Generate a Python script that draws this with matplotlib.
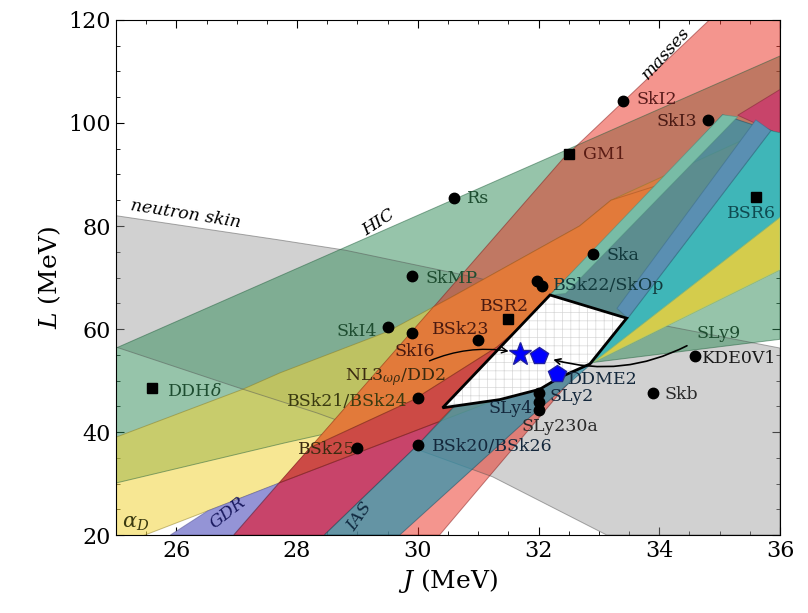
import numpy as np
import matplotlib
matplotlib.use("Agg")
import matplotlib.pyplot as plt

plt.rcParams['font.family'] = 'DejaVu Serif'
plt.rcParams['mathtext.fontset'] = 'dejavuserif'
plt.rcParams['hatch.linewidth'] = 0.5

# constraint bands, (J, L) vertices in MeV
gray_J = [25, 27.7, 28.8, 31.0, 32.2, 33.5, 34.2, 36, 36, 33.13, 31.24, 28.33, 27.0, 25]
gray_L = [82, 77.3, 75.3, 69.9, 66.4, 62.1, 60.4, 56.3, 20, 20, 31.3, 43.7, 48.7, 56.5]

hic_J = [25, 36, 36, 32.9, 32.4, 32.0, 31.4, 30.4, 27.8, 25]
hic_L = [56.3, 113, 58, 53.5, 50.8, 48.3, 46.5, 44.7, 37.9, 30.1]

ad_J = [25, 25, 27.1, 27.72, 29.5, 30.53, 32.68, 33.2, 36, 36, 32.9, 25.48, 25]
ad_L = [17.8, 39, 48.3, 51.5, 59.5, 66, 80, 85, 100, 71.5, 53.5, 20, 17.8]

mass_J = [26.95, 30.36, 32.4, 34.83, 36, 36, 30.36]
mass_L = [20, 65.6, 93, 120, 120, 98, 20]

ias_J = [28.45, 30.0, 31.3, 32.19, 33.6, 35.05, 35.9, 33.48, 32.9, 31.8, 29.7]
ias_L = [20, 37.5, 53.5, 66.6, 83.1, 101.6, 98.3, 62.1, 53.5, 42.3, 20]

# overlap pieces, as they show through the other bands
mass_ad_J = [30.26, 28.22, 29.92, 31.31, 32.2, 32.19, 33.6, 33.95, 33.2, 32.68, 30.53]
mass_ad_L = [64.3, 37.0, 46.2, 56.5, 65.6, 66.6, 83.1, 87.8, 85, 80, 66]
gdr_low_J = [25.9, 26.95, 27.70, 26.52]
gdr_low_L = [20, 20, 30.1, 24.7]
gdr_mass_J = [26.95, 28.45, 30.0, 30.35, 27.70]
gdr_mass_L = [20, 20, 37.5, 42.0, 30.1]
gdr_mid_J = [27.70, 30.35, 31.3, 32.19, 32.2, 31.31, 29.92, 28.22]
gdr_mid_L = [30.1, 42.0, 53.5, 66.6, 65.6, 56.5, 46.2, 37.0]
gdr_top_J = [35.3, 36, 36, 35.9]
gdr_top_L = [101.5, 106.5, 98.1, 98.3]
gdr_fan_J = [32.9, 36, 36, 35.85, 33.48]
gdr_fan_L = [53.5, 81.7, 98.1, 98.5, 62.1]
ad_fan_J = [32.9, 36, 36]
ad_fan_L = [53.5, 71.5, 81.7]
ias_gdr_J = [33.48, 35.85, 35.6, 33.3]
ias_gdr_L = [62.1, 98.5, 100.6, 64.0]
ias_edge_J = [32.19, 35.05, 35.3, 32.45]
ias_edge_L = [66.6, 101.6, 101.2, 66.9]

# allowed region
white_J = [30.41, 32.19, 33.46, 32.85, 32.35, 32.02, 31.36]
white_L = [44.7, 66.6, 62.1, 53.2, 50.6, 48.3, 46.3]

# models
dot_J = [33.4, 34.8, 30.6, 32.9, 32.05, 31.97, 29.9, 29.5, 29.9, 31.0,
         30.0, 29.0, 30.0, 32.0, 32.0, 32.0, 33.9, 34.6]
dot_L = [104.3, 100.5, 85.5, 74.6, 68.4, 69.3, 70.3, 60.4, 59.2, 57.8,
         46.6, 36.9, 37.4, 47.5, 45.9, 44.3, 47.6, 54.7]
sq_J = [32.5, 31.5, 35.6, 25.6]
sq_L = [94.0, 62.0, 85.7, 48.5]
star_J = [31.7]
star_L = [55.2]
pent_J = [32.0, 32.3]
pent_L = [54.8, 51.2]

labels = [('SkI2', 33.63, 104.5, 'left', '#5a1c1c'), ('SkI3', 34.62, 100.2, 'right', '#4a1a14'),
          ('GM1', 32.73, 93.8, 'left', '#5a1c14'), ('Rs', 30.81, 85.4, 'left', '#1e4d30'),
          ('BSR6', 35.53, 82.5, 'center', '#0f4a50'), ('Ska', 33.13, 74.2, 'left', '#12393c'),
          ('BSk22/SkOp', 32.24, 68.5, 'left', '#12393c'), ('SkMP', 30.12, 69.9, 'left', '#1e4d30'),
          ('BSR2', 31.44, 64.3, 'center', '#4a1a10'), ('BSk23', 30.23, 60.0, 'left', '#4a1a10'),
          ('SkI4', 29.32, 59.6, 'right', '#1e4d30'), ('SkI6', 29.95, 55.6, 'center', '#4a1a10'),
          (r'NL3$_{\omega\rho}$/DD2', 28.79, 50.7, 'left', '#3a2a10'),
          ('BSk21/BSk24', 29.83, 45.9, 'right', '#3a3a10'), (r'DDH$\delta$', 25.84, 47.9, 'left', '#1e4d30'),
          ('BSk25', 28.96, 36.6, 'right', '#3a2a10'), ('BSk20/BSk26', 30.23, 37.1, 'left', '#14283c'),
          ('DDME2', 32.48, 50.1, 'left', '#14283c'), ('SLy2', 32.19, 46.9, 'left', '#14283c'),
          ('SLy4', 31.9, 44.6, 'right', '#14283c'), ('SLy230a', 31.72, 41.0, 'left', '#2a2a2a'),
          ('Skb', 34.09, 47.3, 'left', '#2a2a2a'), ('KDE0V1', 34.7, 54.2, 'left', '#1a1a1a'),
          ('SLy9', 34.62, 59.2, 'left', '#1e4d30')]

fig = plt.figure(figsize=(8.08, 6.13), dpi=100)
ax = fig.add_axes([0.1436, 0.1272, 0.8217, 0.8402])

def band(J, L, color, alpha, edge, z=2):
    ax.fill(J, L, facecolor=color, alpha=alpha, edgecolor='none', zorder=z)
    ax.fill(J, L, facecolor='none', edgecolor=edge, lw=0.7, alpha=0.5, zorder=z + 0.05)

band(gray_J, gray_L, '#9a9a9a', 0.45, '#555555')
band(hic_J, hic_L, '#2e8b57', 0.5, '#1e5e3a')
band(ad_J, ad_L, '#f2d43a', 0.55, '#8a7a20')
band(mass_J, mass_L, '#eb2d1e', 0.5, '#801818')
band(mass_ad_J, mass_ad_L, '#e27a3a', 1, '#a05020', 2.2)
band(gdr_low_J, gdr_low_L, '#9494d6', 1, '#505090', 2.2)
band(gdr_mass_J, gdr_mass_L, '#c8446a', 1, '#7a2030', 2.2)
band(gdr_mid_J, gdr_mid_L, '#cc4a45', 1, '#7a2020', 2.2)
band(gdr_top_J, gdr_top_L, '#c8446a', 1, '#7a2030', 2.2)
band(ias_J, ias_L, '#2c94ad', 0.72, '#104a5e', 2.4)
band(gdr_fan_J, gdr_fan_L, '#3fb6b8', 1, '#2a8080', 2.6)
band(ad_fan_J, ad_fan_L, '#d4cc4c', 1, '#8fd090', 2.6)
band(ias_gdr_J, ias_gdr_L, '#5a8fb2', 1, '#3a6a8a', 2.6)
band(ias_edge_J, ias_edge_L, '#78bca6', 1, '#4a8a7a', 2.6)

ax.fill(white_J, white_L, facecolor='white', edgecolor='#d8d8d8', hatch='++', lw=0, zorder=3)
ax.fill(white_J, white_L, facecolor='none', edgecolor='black', lw=2, zorder=3.1)

# band labels
ax.text(26.15, 82.3, 'neutron skin', style='italic', fontsize=12.5, rotation=-9,
        ha='center', va='center', zorder=4)
ax.text(29.35, 80.6, 'HIC', style='italic', fontsize=12.5, rotation=33,
        ha='center', va='center', zorder=4)
ax.text(34.1, 113.6, 'masses', style='italic', fontsize=12.5, rotation=48,
        ha='center', va='center', zorder=4)
ax.text(26.85, 24.3, 'GDR', style='italic', fontsize=12.5, rotation=38, color='#1a1a60',
        ha='center', va='center', zorder=4)
ax.text(29.04, 23.5, 'IAS', style='italic', fontsize=12.5, rotation=55, color='#102a40',
        ha='center', va='center', zorder=4)
ax.text(25.33, 22.2, r'$\alpha_D$', fontsize=15, color='#3a3a10', ha='center',
        va='center', zorder=4)

ax.plot(dot_J, dot_L, 'o', color='black', ms=7.5, zorder=5)
ax.plot(sq_J, sq_L, 's', color='black', ms=7.5, zorder=5)
ax.plot(star_J, star_L, '*', color='blue', mec='#2020a0', ms=17, zorder=6)
ax.plot(pent_J, pent_L, 'p', color='blue', mec='#2020a0', ms=13, zorder=6)

for name, x, y, ha, c in labels:
    ax.text(x, y, name, fontsize=12.5, ha=ha, va='center', color=c, zorder=4)

ax.annotate('', xy=(31.55, 55.6), xytext=(30.15, 53.6),
            arrowprops=dict(arrowstyle='->', lw=1, color='black',
                            connectionstyle='arc3,rad=-0.15'), zorder=4)
ax.annotate('', xy=(32.2, 54.2), xytext=(34.5, 57.0),
            arrowprops=dict(arrowstyle='->', lw=1.2, color='black',
                            connectionstyle='arc3,rad=-0.2'), zorder=4)

ax.set_xlim(25, 36)
ax.set_ylim(20, 120)
ax.set_xticks(np.arange(26, 37, 2))
ax.set_yticks(np.arange(20, 121, 20))
ax.set_xticks(np.arange(25, 36.01, 0.5), minor=True)
ax.set_yticks(np.arange(20, 121, 5), minor=True)
ax.tick_params(which='both', direction='in', top=True, right=True, labelsize=16)
ax.tick_params(which='major', length=6)
ax.tick_params(which='minor', length=3)
ax.set_xlabel(r'$J$ (MeV)', fontsize=18)
ax.set_ylabel(r'$L$ (MeV)', fontsize=18)

fig.savefig('out.png', dpi=100)
